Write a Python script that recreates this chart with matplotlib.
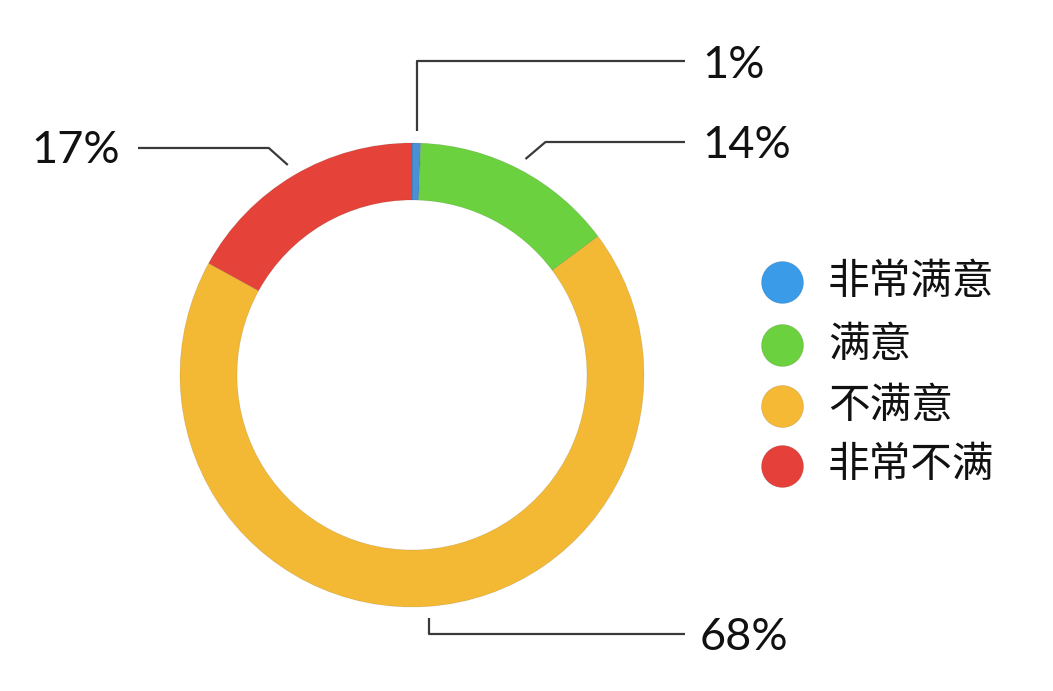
import numpy as np
import matplotlib
matplotlib.use("Agg")
import matplotlib.pyplot as plt

# ---- data ----
categories = ["非常满意", "满意", "不满意", "非常不满"]
shares = [0.6, 14.2, 68.2, 17.0]
label_texts = ["1%", "14%", "68%", "17%"]
slice_colors = ["#4a90d6", "#6bd13f", "#f4b934", "#e5433a"]
legend_colors = ["#3a9be8", "#6bd13f", "#f5b935", "#e5403a"]

W, H = 1053, 691
fig = plt.figure(figsize=(W / 100, H / 100), dpi=100)
ax = fig.add_axes([0, 0, 1, 1])

cx, cy = 412, H - 375
R, ring = 232, 57
wedges, _ = ax.pie(shares, colors=slice_colors, startangle=90, counterclock=False,
                   center=(cx, cy), radius=R, frame=True,
                   wedgeprops=dict(width=ring, edgecolor=(0, 0, 0, 0.12), linewidth=0.5))
ax.set_xlim(0, W)
ax.set_ylim(0, H)
ax.set_aspect("equal")
ax.axis("off")

pct_font = dict(family=["Lato", "DejaVu Sans"], fontsize=32.5, fontweight="normal", color="#111111")
line_kw = dict(color="#3a3a3a", lw=1.6, solid_capstyle="butt")

for w, txt in zip(wedges, label_texts):
    ang = np.deg2rad((w.theta1 + w.theta2) / 2)
    sx, sy = cx + 244 * np.cos(ang), cy + 244 * np.sin(ang)
    dx = np.cos(ang)
    if txt == "1%":
        pts = [(sx, sy), (sx, H - 61), (685, H - 61)]
        tx, ty, ha = 702, H - 65, "left"
    elif np.sin(ang) > 0 and dx > 0:
        pts = [(sx, sy), (sx + 20, sy + 17), (685, sy + 17)]
        tx, ty, ha = 702, sy + 14, "left"
    elif np.sin(ang) > 0 and dx < 0:
        pts = [(sx, sy), (sx - 19, sy + 17), (138, sy + 17)]
        tx, ty, ha = 120, sy + 14, "right"
    else:
        pts = [(sx, sy), (sx, sy - 16), (685, sy - 16)]
        tx, ty, ha = 700, sy - 19, "left"
    xs, ys = zip(*pts)
    ax.plot(xs, ys, **line_kw)
    ax.text(tx, ty, txt, ha=ha, va="center", **pct_font)

# legend
leg_y = [282, 345, 406, 466]
for c, name, y in zip(legend_colors, categories, leg_y):
    ax.scatter([782], [H - y], s=(42 * 0.72) ** 2, color=c, edgecolors=(0, 0, 0, 0.12), linewidths=0.6)
    ax.text(828, H - y, name, ha="left", va="center",
            family=["Noto Sans CJK SC", "DejaVu Sans"], fontsize=30, fontweight="light", color="#111111")

fig.savefig("out.png", dpi=100, facecolor="white")
